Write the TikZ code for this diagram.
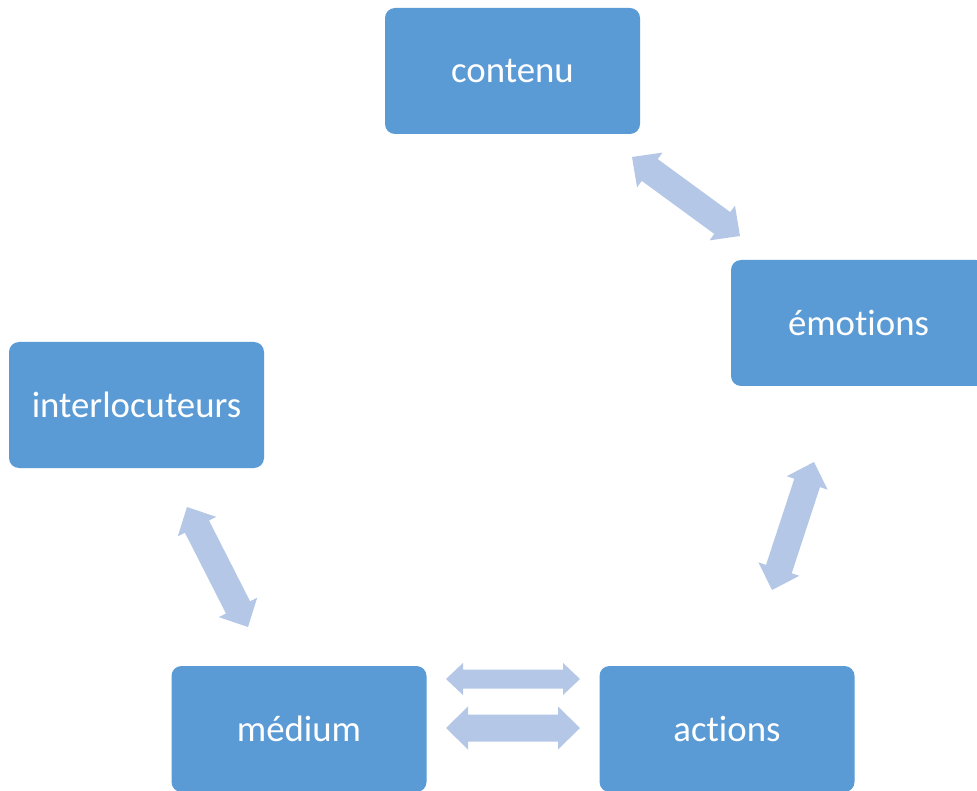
\documentclass[tikz,border=0pt]{standalone}
\usepackage{fontspec}
\setmainfont{Carlito}[Ligatures=NoCommon]
\usetikzlibrary{calc}
\definecolor{boxc}{HTML}{5B9BD5}
\definecolor{arrowc}{HTML}{B4C7E7}
\tikzset{
  x=1pt, y=-1pt,
  box/.style={fill=boxc, rounded corners=10pt, minimum width=255pt, minimum height=126pt,
    inner sep=0pt, text=white, font=\fontsize{36.8}{44}\selectfont},
}
\newcommand\dblarr[5]{%
  \coordinate (da) at ($(#1)!#5!(#2)$);
  \coordinate (db) at ($(#2)!#5!(#1)$);
  \fill[arrowc] (#1) -- ($(da)!#4!90:(#2)$) -- ($(da)!#3!90:(#2)$)
    -- ($(db)!#3!-90:(#1)$) -- ($(db)!#4!-90:(#1)$) -- (#2)
    -- ($(db)!#4!90:(#1)$) -- ($(db)!#3!90:(#1)$)
    -- ($(da)!#3!-90:(#2)$) -- ($(da)!#4!-90:(#2)$) -- cycle;
}
\begin{document}
\begin{tikzpicture}
\clip (0,0) rectangle (977,791);
\fill[white] (0,0) rectangle (977,791);
\node[box] (contenu) at (512.5,71) {contenu};
\node[box] (emotions) at (858.5,323) {émotions};
\node[box] (inter) at (136.5,405) {interlocuteurs};
\node[box] (medium) at (299,729) {médium};
\node[box] (actions) at (727,729) {actions};
% arrow tips
\coordinate (ce1) at (632,157);
\coordinate (ce2) at (740,236);
\coordinate (ea1) at (814,462);
\coordinate (ea2) at (772,590);
\coordinate (mi1) at (248,627);
\coordinate (mi2) at (187,507);
\coordinate (am1) at (580,679);
\coordinate (am2) at (446,679);
\coordinate (ma1) at (446,728);
\coordinate (ma2) at (580,728);
\dblarr{ce1}{ce2}{13.5pt}{21.5pt}{22pt}
\dblarr{ea1}{ea2}{13.5pt}{21.5pt}{22pt}
\dblarr{mi1}{mi2}{13.5pt}{21.5pt}{22pt}
\dblarr{am1}{am2}{9.5pt}{16pt}{17pt}
\dblarr{ma1}{ma2}{13.5pt}{21.5pt}{22pt}
\end{tikzpicture}
\end{document}
